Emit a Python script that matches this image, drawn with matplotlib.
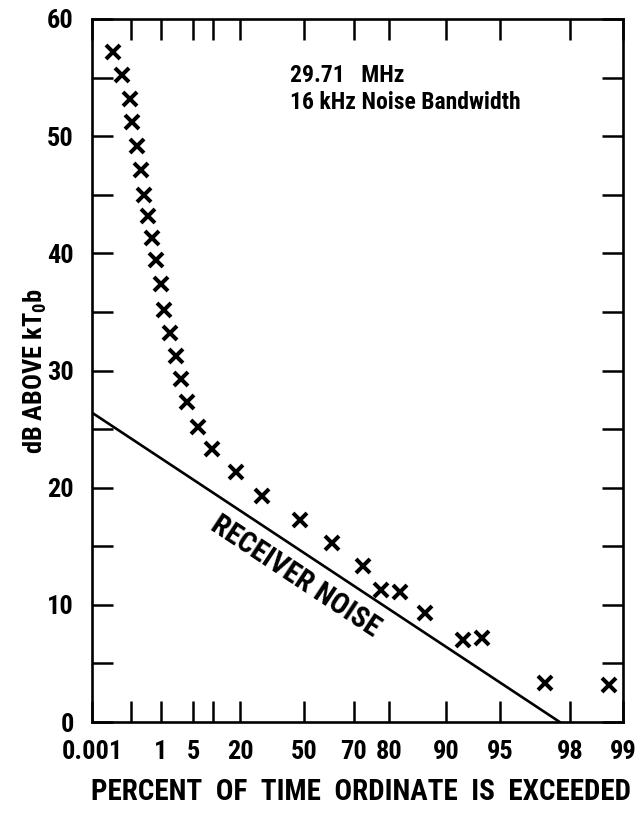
import numpy as np
import matplotlib.pyplot as plt

# percent of time exceeded and level (dB above kT0b)
pct = [0.0164, 0.044, 0.0915, 0.114, 0.18, 0.25, 0.32, 0.42, 0.56, 0.73,
       1.0, 1.22, 1.7, 2.3, 2.9, 3.8, 5.9, 9.5, 18, 30,
       48, 62, 73, 78, 82.5, 87, 92, 93.7, 97.2, 98.8]
db = [57.2, 55.2, 53.2, 51.2, 49.2, 47.1, 45.0, 43.2, 41.3, 39.4,
      37.4, 35.2, 33.2, 31.2, 29.3, 27.3, 25.2, 23.3, 21.3, 19.3,
      17.2, 15.3, 13.3, 11.3, 11.1, 9.3, 7.0, 7.2, 3.3, 3.2]

# receiver noise line (end points)
noise_pct = [0.001, 97.7]
noise_db = [26.4, 0]

tick_pct = [0.001, 0.1, 1, 5, 10, 20, 50, 70, 80, 90, 95, 98, 99]
tick_lbl = ["0.001", "", "1", "5", "", "20", "50", "70", "80", "90", "95", "98", "99"]

FONT = ['Roboto Condensed', 'DejaVu Sans']
plt.rcParams['font.family'] = FONT
plt.rcParams['font.weight'] = 'bold'
plt.rcParams['font.stretch'] = 'condensed'
plt.rcParams['axes.labelweight'] = 'bold'
plt.rcParams['mathtext.default'] = 'regular'


# Rayleigh probability paper: x = -log10(-ln(q))
def fwd(p):
    q = np.clip(np.asarray(p, dtype=float) / 100.0, 1e-12, 1 - 1e-12)
    return -np.log10(-np.log(q))


def inv(x):
    return 100.0 * np.exp(-10.0 ** (-np.asarray(x, dtype=float)))


fig = plt.figure(figsize=(6.39, 8.15), dpi=100)
ax = fig.add_axes([92 / 639, 1 - 722 / 815, 531 / 639, 703 / 815])
ax.set_xscale('function', functions=(fwd, inv))
ax.set_xlim(0.001, 99)
ax.set_ylim(0, 60)

ax.plot(noise_pct, noise_db, color='black', lw=1.9)
ax.plot(pct, db, linestyle='none', marker='x', color='black',
        markersize=10.5, markeredgewidth=2.9)

ax.set_xticks(tick_pct)
ax.set_xticklabels(tick_lbl)
ax.xaxis.set_minor_locator(plt.NullLocator())
ax.set_yticks(np.arange(0, 61, 10))
ax.set_yticks(np.arange(5, 60, 10), minor=True)
ax.tick_params(which='both', direction='in', top=True, right=True,
               length=15, width=1.8, labelsize=19, pad=13)
for s in ax.spines.values():
    s.set_linewidth(1.9)

fig.text(361 / 639, 1 - 792 / 815, "PERCENT  OF  TIME  ORDINATE  IS  EXCEEDED",
         fontsize=21, ha='center', va='center')
ax.set_ylabel(r"dB ABOVE kT$_\mathregular{0}$b", fontsize=19)
ax.yaxis.set_label_coords(-0.081, 0.50)

ax.text(0.373, 0.9, "29.71   MHz\n16 kHz Noise Bandwidth", transform=ax.transAxes,
        fontsize=17, va='center', ha='left', linespacing=1.2)

# label under the receiver-noise line, rotated to follow it on screen
p0 = ax.transData.transform((noise_pct[0], noise_db[0]))
p1 = ax.transData.transform((noise_pct[1], noise_db[1]))
ang = np.degrees(np.arctan2(p1[1] - p0[1], p1[0] - p0[0]))
ax.text(46, 12.4, "RECEIVER NOISE", rotation=ang, rotation_mode='anchor',
        ha='center', va='center', fontsize=21)

fig.savefig("out.png", dpi=100)
